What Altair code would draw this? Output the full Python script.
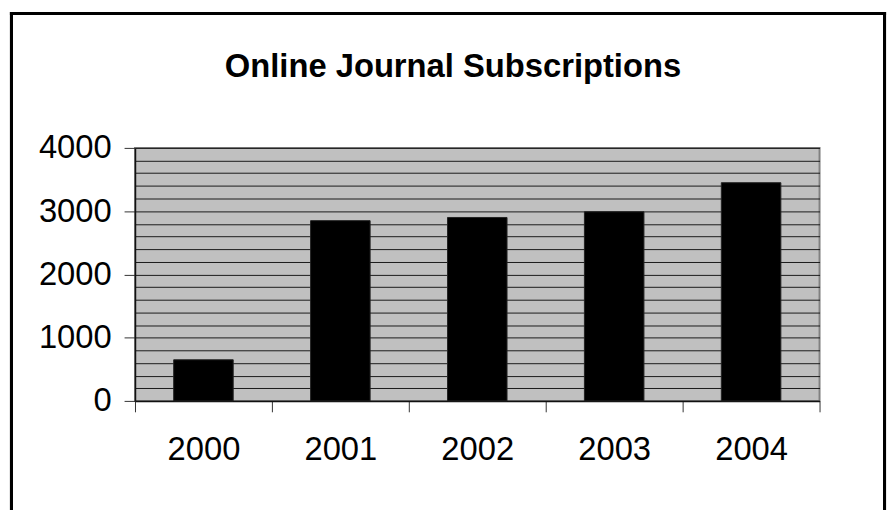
import altair as alt
import pandas as pd

years = ["2000", "2001", "2002", "2003", "2004"]
subscriptions = [650, 2850, 2900, 2990, 3450]
grid_values = list(range(0, 4001, 200))

df = pd.DataFrame({"year": years, "subs": subscriptions})

FONT = "Liberation Sans"
W, H = 690, 255

bars = alt.Chart(df).mark_bar(width=60, color="black", stroke="#222222", strokeWidth=1).encode(
    x=alt.X("year:N", title=None,
            scale=alt.Scale(paddingInner=0, paddingOuter=0),
            axis=alt.Axis(labelAngle=0, tickBand="extent", tickSize=11, tickColor="#333333",
                          domainColor="#111111", domainWidth=1.5,
                          labelFont=FONT, labelFontSize=33, labelColor="black",
                          labelPadding=22, grid=False)),
    y=alt.Y("subs:Q", title=None,
            scale=alt.Scale(domain=[0, 4000], nice=False),
            axis=alt.Axis(values=grid_values, grid=True, gridColor="#1a1a1a", gridWidth=1,
                          labelExpr="datum.value % 1000 == 0 ? datum.label : ''",
                          format="d", labelOverlap=False, labelBound=False,
                          tickOpacity={"condition": {"test": "datum.value % 1000 == 0", "value": 1}, "value": 0},
                          tickSize=11, tickColor="#333333",
                          domainColor="#111111", domainWidth=1.5,
                          labelFont=FONT, labelFontSize=33, labelColor="black",
                          labelPadding=13)),
)

# outer frame of the chart (left, top, right edges)
left_edge = alt.Chart(df).mark_rule(color="black", strokeWidth=3).encode(
    x=alt.value(-124.5), y=alt.value(-137), y2=alt.value(367))
right_edge = alt.Chart(df).mark_rule(color="black", strokeWidth=3).encode(
    x=alt.value(755.5), y=alt.value(-137), y2=alt.value(367))
top_edge = alt.Chart(df).mark_rule(color="black", strokeWidth=3).encode(
    y=alt.value(-135.5), x=alt.value(-126), x2=alt.value(757))

chart = alt.layer(bars, left_edge, right_edge, top_edge).properties(
    width=W, height=H,
    padding=0,
    background="white",
    title=alt.TitleParams("Online Journal Subscriptions", font=FONT, fontSize=33,
                          fontWeight="bold", color="black", anchor="middle",
                          frame="bounds", offset=-74, dx=5),
).configure_view(
    fill="#c0c0c0", stroke="#808080", strokeWidth=2
)

chart.save("out.html", embed_options={"renderer": "svg", "actions": False})
